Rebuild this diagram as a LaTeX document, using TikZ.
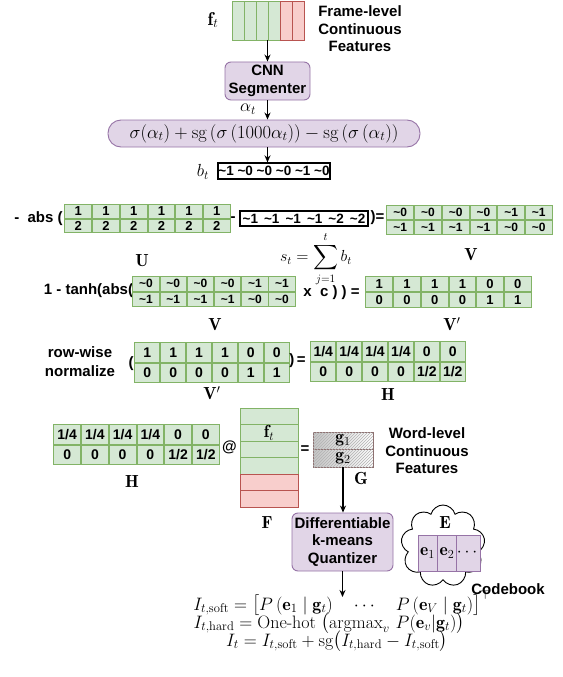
\RequirePackage{fix-cm}
\documentclass[tikz,border=0pt]{standalone}
\usepackage{amsmath}
\usepackage{fontspec}
\newfontfamily\lsans{Liberation Sans}
\usetikzlibrary{arrows.meta,shapes.symbols,patterns,matrix}
\definecolor{grnf}{HTML}{D5E8D4}
\definecolor{grnd}{HTML}{82B366}
\definecolor{redf}{HTML}{F8CECC}
\definecolor{redd}{HTML}{B85450}
\definecolor{purf}{HTML}{E1D5E7}
\definecolor{purd}{HTML}{9673A6}
\definecolor{gbd}{HTML}{8C6E6E}
\newcommand\mytl{\textasciitilde}
\newcommand\gapsp{\hspace{0.45em}}
\tikzset{
  lbl/.style={font=\lsans\bfseries\fontsize{15}{17.5}\selectfont, align=center, inner sep=0},
  mth/.style={font=\fontsize{17.5}{20}\selectfont, inner sep=0},
  eqn/.style={font=\fontsize{18}{20}\selectfont, inner sep=0, anchor=base},
  arr/.style={-{Stealth[length=7pt,width=6pt]}, line width=1.2pt},
  gfc/.style={draw=grnd, fill=grnf, line width=0.9pt, inner sep=0, outer sep=0},
  rfc/.style={draw=redd, fill=redf, line width=0.9pt, inner sep=0, outer sep=0},
  pbox/.style={draw=purd, fill=purf, rounded corners=6pt, line width=0.9pt, align=center, inner sep=0,
    font=\lsans\bfseries\fontsize{15}{17.5}\selectfont},
  blkbox/.style={draw=black, line width=1.3pt, fill=white, inner sep=0,
    font=\lsans\bfseries\fontsize{13.5}{15}\selectfont},
  mat/.style n args={3}{matrix of nodes, inner sep=0, outer sep=0, column sep=0, row sep=0,
    nodes={gfc, minimum width=#1, minimum height=#2, anchor=center,
      font=\lsans\bfseries\fontsize{#3}{#3}\selectfont}},
  gcell/.style={draw=gbd, line width=0.9pt, left color=gray!45, right color=white,
    postaction={pattern=north east lines, pattern color=gray!60},
    minimum width=60, minimum height=17.5, inner sep=0, outer sep=0, font=\fontsize{17.5}{20}\selectfont},
  ecell/.style={draw=purd, fill=purf, line width=0.9pt, minimum height=36, inner sep=0, outer sep=0,
    font=\fontsize{17.5}{20}\selectfont},
}
\begin{document}
\begin{tikzpicture}[x=1pt,y=-1pt]
\useasboundingbox (0,0) rectangle (562,677);
% frame-level features
\foreach \i in {1,...,4} \node[gfc, minimum width=12, minimum height=39] (fc\i) at ({226+12*\i},20.5) {};
\foreach \i in {5,6} \node[rfc, minimum width=12, minimum height=39] (fc\i) at ({226+12*\i},20.5) {};
\node[mth, font=\fontsize{18.5}{20}\selectfont] (ft) at (213,20) {$\mathbf{f}_t$};
\node[lbl] (frame) at (360,29) {Frame-level\\Continuous\\Features};
\node[pbox, minimum width=85, minimum height=38] (cnn) at (267.5,81) {CNN\\Segmenter};
\draw[arr] (cnn.north |- fc3.south) -- (cnn.north);
\node[mth] (alpha) at (248,109) {$\alpha_t$};
\node[draw=purd, fill=purf, line width=0.9pt, rounded corners=13pt, minimum width=312, minimum height=27, inner sep=0,
  font=\fontsize{18.5}{20}\selectfont] (sig) at (264,133.5)
  {$\sigma(\alpha_t)+\operatorname{sg}\left(\sigma\left(1000\alpha_t\right)\right)-\operatorname{sg}\left(\sigma\left(\alpha_t\right)\right)$};
\draw[arr] (cnn.south) -- (cnn.south |- sig.north);
\node[mth] (bt) at (203,172) {$b_t$};
\node[blkbox, minimum width=112, minimum height=16] (btbox) at (274,171) {\mytl1 \mytl0 \mytl0 \mytl0 \mytl1 \mytl0};
\draw[arr] (cnn.south |- sig.south) -- (cnn.south |- btbox.north);
% row 2
\node[lbl] (abs1) at (38.5,219) {-\ \ abs (};
\matrix (U) [mat={26.83}{13.5}{13}] at (147.5,218.5) {1&1&1&1&1&1\\2&2&2&2&2&2\\};
\node[mth] (Ul) at (142,261) {$\mathbf{U}$};
\node[lbl] (minus2) at (233,219) {-};
\node[blkbox, minimum width=128, minimum height=15] (sbox) at (304,218.5)
  {\mytl1\gapsp\mytl1\gapsp\mytl1\gapsp\mytl1\gapsp\mytl2\gapsp\mytl2};
\node[lbl] (rpar2) at (377.5,218) {)=};
\matrix (V) [mat={26.83}{14}{12}] at (469.5,220)
  {\mytl0&\mytl0&\mytl0&\mytl0&\mytl1&\mytl1\\\mytl1&\mytl1&\mytl1&\mytl1&\mytl0&\mytl0\\};
\node[mth] (Vl) at (471,255) {$\mathbf{V}$};
\node[mth, font=\fontsize{16}{18}\selectfont] (st) at (316,259) {$\displaystyle s_t=\sum_{j=1}^{t} b_t$};
% row 3
\node[lbl] (tanh) at (88.5,291) {1 - tanh(abs(};
\matrix (V2) [mat={26.33}{14.5}{12}] at (214,291.5)
  {\mytl0&\mytl0&\mytl0&\mytl0&\mytl1&\mytl1\\\mytl1&\mytl1&\mytl1&\mytl1&\mytl0&\mytl0\\};
\node[mth] (V2l) at (215,325) {$\mathbf{V}$};
\node[lbl] (xc) at (331.5,292.5) {x\ \ c ) ) =};
\matrix (Vp) [mat={26.83}{15}{13}] at (448.5,292) {1&1&1&1&0&0\\0&0&0&0&1&1\\};
\node[mth] (Vpl) at (452,324) {$\mathbf{V}'$};
% row 4
\node[lbl, font=\lsans\bfseries\fontsize{15}{19}\selectfont] (rw) at (80,362) {row-wise\\normalize};
\node[lbl] (lp) at (131,364) {(};
\matrix (Vp2) [mat={25}{19.5}{14}] at (212,362.5) {1&1&1&1&0&0\\0&0&0&0&1&1\\};
\node[mth] (Vp2l) at (212,393) {$\mathbf{V}'$};
\node[lbl] (rp) at (297.5,361) {)\,=};
\matrix (H1) [mat={25}{19.5}{14}] at (388,361.5) {1/4&1/4&1/4&1/4&0&0\\0&0&0&0&1/2&1/2\\};
\node[mth] (H1l) at (388,394) {$\mathbf{H}$};
% row 5
\matrix (H2) [mat={26.83}{19.5}{14}] at (136.5,444.5) {1/4&1/4&1/4&1/4&0&0\\0&0&0&0&1/2&1/2\\};
\node[mth] (H2l) at (132,481) {$\mathbf{H}$};
\node[lbl] (atsign) at (229.5,447) {@};
\foreach \i in {1,...,4} \node[gfc, minimum width=58, minimum height=16.5] (F\i) at (269,{399.75+16.5*\i}) {};
\foreach \i in {5,6} \node[rfc, minimum width=58, minimum height=16.5] (F\i) at (269,{399.75+16.5*\i}) {};
\node[mth] (ftF) at (F2) {$\mathbf{f}_t$};
\node[mth] (Fl) at (267,523) {$\mathbf{F}$};
\node[lbl] (eqG) at (305,450) {=};
\node[gcell] (G1) at (343,440.75) {$\mathbf{g}_1$};
\node[gcell] (G2) at (343,458.25) {$\mathbf{g}_2$};
\node[mth] (Gl) at (361,478) {$\mathbf{G}$};
\node[lbl] (word) at (427,451) {Word-level\\Continuous\\Features};
\node[pbox, minimum width=101, minimum height=58] (quant) at (342.5,542) {Differentiable\\k-means\\Quantizer};
\draw[arr] (G2.south) -- (G2.south |- quant.north);
\coordinate (eqtop) at (342.5,597);
\draw[arr] (quant.south) -- (eqtop);
% codebook
\node[cloud, cloud puffs=9, cloud ignores aspect, draw=black, line width=0.9pt, minimum width=84, minimum height=82, inner sep=0] (cloud) at (443,546) {};
\node[mth] (El) at (445,523) {$\mathbf{E}$};
\node[ecell, minimum width=19] (e1) at (427.5,553) {$\mathbf{e}_1$};
\node[ecell, minimum width=20] (e2) at (447,553) {$\mathbf{e}_2$};
\node[ecell, minimum width=23] (e3) at (468.5,553) {$\cdots$};
\node[lbl] (codebook) at (508,589) {Codebook};
% equations
\node[eqn] (eq1) at (342,610)
  {$I_{t,\mathrm{soft}}=\bigl[P\left(\mathbf{e}_1\mid\mathbf{g}_t\right)\quad\cdots\quad P\left(\mathbf{e}_V\mid\mathbf{g}_t\right)\bigr]^{\top}$};
\node[eqn] (eq2) at (329,628)
  {$I_{t,\mathrm{hard}}=\text{One-hot}\;\bigl(\operatorname{argmax}_v\,P(\mathbf{e}_v|\mathbf{g}_t)\bigr)$};
\node[eqn] (eq3) at (337,646)
  {$I_t=I_{t,\mathrm{soft}}+\operatorname{sg}\bigl(I_{t,\mathrm{hard}}-I_{t,\mathrm{soft}}\bigr)$};
\end{tikzpicture}
\end{document}
